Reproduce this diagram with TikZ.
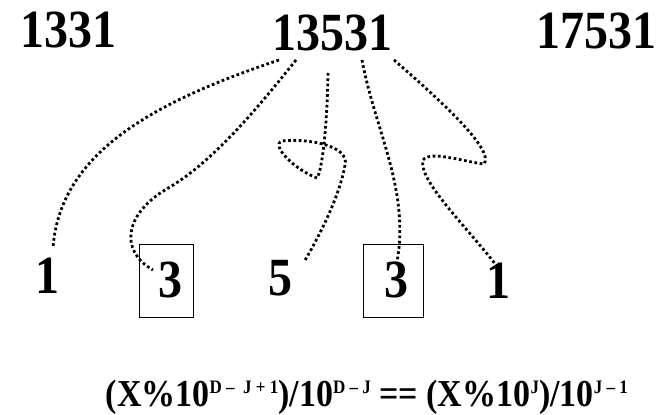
\documentclass[tikz,border=0pt]{standalone}
\usepackage{fontspec}
\setmainfont{Liberation Serif}
\usepackage{graphicx}
\newcommand\bignum[1]{\scalebox{1}[1.12]{\fontsize{48}{48}\selectfont\bfseries #1}}
\newcommand\fmltext[1]{\scalebox{1}[1.12]{\fontsize{34}{34}\selectfont\bfseries #1}}
\newcommand\sps[1]{\raisebox{11pt}{\fontsize{17}{17}\selectfont #1}}
\tikzset{
  num/.style={inner sep=0pt, anchor=base},
  dotline/.style={line width=2.8pt, dash pattern=on 2.7pt off 2.6pt},
  boxframe/.style={draw, line width=0.8pt, inner sep=0pt}
}
\begin{document}
\begin{tikzpicture}[x=1pt,y=-1pt]
\path[use as bounding box] (0,0) rectangle (662,415);
% top numbers
\node[num] (n1331) at (68.5,47) {\bignum{1331}};
\node[num] (n13531) at (332.5,50) {\bignum{13531}};
\node[num] (n17531) at (596,48) {\bignum{17531}};
% bottom digits
\node[num] (d1) at (47,293) {\bignum{1}};
\node[num] (d2) at (170.5,297) {\bignum{3}};
\node[num] (d3) at (280,295) {\bignum{5}};
\node[num] (d4) at (396.5,297) {\bignum{3}};
\node[num] (d5) at (498,298) {\bignum{1}};
% boxes
\node[boxframe, minimum width=54pt, minimum height=73pt] (box1) at (166,280.5) {};
\node[boxframe, minimum width=60pt, minimum height=73pt] (box2) at (393,280.5) {};
% connector end points
\coordinate (sA) at (279,60);  \coordinate (eA) at (53,248);
\coordinate (sB) at (296,60);  \coordinate (eB) at (153,270);
\coordinate (sC) at (328,73);  \coordinate (eC) at (304,262);
\coordinate (sD) at (362,60);  \coordinate (eD) at (397,262);
\coordinate (sE) at (394,60);  \coordinate (eE) at (496,265);
% curves
\draw[dotline] (sA) .. controls (160,100) and (60,150) .. (eA);
\draw[dotline] (sB) .. controls (260,105) and (215,160) .. (170,187)
  .. controls (125,212) and (118,250) .. (eB);
\draw[dotline] (sC) .. controls (327,130) and (322,170) .. (317,178)
  .. controls (295,170) and (270,145) .. (282,141)
  .. controls (305,138) and (350,145) .. (345,165)
  .. controls (340,195) and (320,235) .. (eC);
\draw[dotline] (sD) .. controls (375,130) and (410,190) .. (eD);
\draw[dotline] (sE) .. controls (440,100) and (495,150) .. (484,164)
  .. controls (465,162) and (430,150) .. (423,160)
  .. controls (418,180) and (465,225) .. (eE);
% formula
\node[inner sep=0pt, anchor=base east] (formula) at (628,406) {\fmltext{(X\%10\sps{D – \ J + 1})/10\sps{D – J} == (X\%10\sps{J})/10\sps{J – 1}}};
\end{tikzpicture}
\end{document}
